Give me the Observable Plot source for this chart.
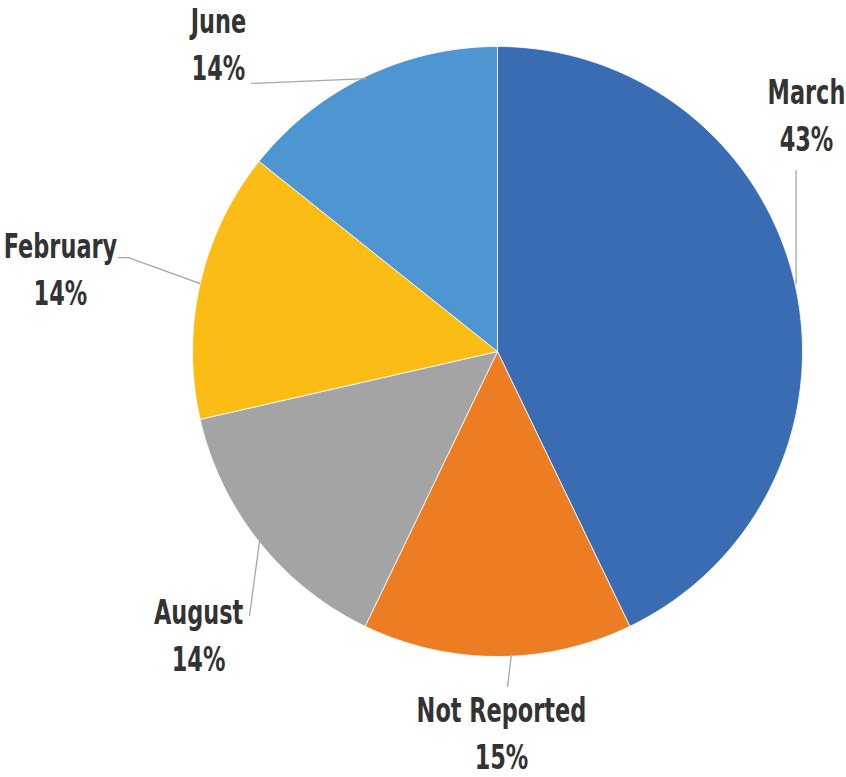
<!DOCTYPE html>
<html>
<head>
<meta charset="utf-8">
<script src="https://cdn.jsdelivr.net/npm/d3@7"></script>
<script src="https://cdn.jsdelivr.net/npm/@observablehq/plot@0.6"></script>
<style>
  html, body { margin: 0; padding: 0; background: #fff; }
  #chart svg { display: block; }
</style>
</head>
<body>
<div id="chart"></div>
<script>
// ---- data ----
const categories = ["March", "Not Reported", "August", "February", "June"];
const counts = [3, 1, 1, 1, 1];                       // slice sizes
const pctLabels = ["43%", "15%", "14%", "14%", "14%"]; // percentages as printed
const colors = ["#3a6cb4", "#ed7d22", "#a4a4a4", "#fbbd15", "#4e96d1"];

// ---- label layout (in pie-radius units, centre = 0,0) ----
const labelX = [1.013, 0.013, -0.980, -1.433, -0.915];
const labelY = [0.813, -1.216, -0.892, 0.308, 1.043];
const leaderPts = [
  [[0.979, 0.593], [0.979, 0.223]],
  [[0.033, -1.098], [0.046, -0.990]],
  [[-0.813, -0.866], [-0.780, -0.620]],
  [[-1.243, 0.308], [-1.210, 0.308], [-0.977, 0.223]],
  [[-0.807, 0.879], [-0.430, 0.895]]
];

// ---- geometry ----
const W = 846, H = 777, R = 305, CX = 497, CY = 351;
const pie = d3.pie().sort(null).value(d => d)(counts);
const slicePts = [];
pie.forEach((p, i) => {
  slicePts.push({cat: categories[i], x: 0, y: 0});
  const n = Math.max(2, Math.ceil((p.endAngle - p.startAngle) / (Math.PI / 360)));
  for (let k = 0; k <= n; k++) {
    const a = p.startAngle + (p.endAngle - p.startAngle) * k / n;
    slicePts.push({cat: categories[i], x: Math.sin(a), y: Math.cos(a)});
  }
  slicePts.push({cat: categories[i], x: 0, y: 0});
});

const labels = categories.map((c, i) => ({
  name: c,
  pct: pctLabels[i],
  x: labelX[i],
  y: labelY[i]
}));
const gap = 47 / R;

const leaders = [];
leaderPts.forEach((pts, i) => pts.forEach(([x, y]) => leaders.push({cat: categories[i], x, y})));

const font = "'DejaVu Sans', sans-serif";
const squeeze = 0.68;

const chart = Plot.plot({
  width: W,
  height: H,
  margin: 0,
  x: {domain: [-CX / R, (W - CX) / R], axis: null},
  y: {domain: [-(H - CY) / R, CY / R], axis: null},
  color: {domain: categories, range: colors},
  style: {fontFamily: font, background: "white"},
  marks: [
    Plot.line(slicePts, {x: "x", y: "y", z: "cat", fill: "cat", stroke: "white", strokeWidth: 0.8, curve: "linear"}),
    Plot.line(leaders, {x: "x", y: "y", z: "cat", stroke: "#a6a6a6", strokeWidth: 1.3}),
    Plot.text(labels, {x: "x", y: "y", text: "name", lineAnchor: "bottom", fontSize: 33, fontWeight: "bold", fill: "#333333", fontFamily: font}),
    Plot.text(labels, {x: "x", y: d => d.y - gap, text: "pct", lineAnchor: "bottom", fontSize: 33, fontWeight: "bold", fill: "#333333", fontFamily: font})
  ]
});

// horizontally condense label glyphs (the original uses a condensed typeface)
d3.select(chart).selectAll("g[aria-label='text'] text").each(function () {
  const t = this.getAttribute("transform");
  if (t) {
    this.setAttribute("transform", t + ` scale(${squeeze},1)`);
  } else {
    const x = +this.getAttribute("x") || 0, y = +this.getAttribute("y") || 0;
    this.removeAttribute("x"); this.removeAttribute("y");
    this.setAttribute("transform", `translate(${x},${y}) scale(${squeeze},1)`);
  }
});
document.getElementById("chart").appendChild(chart);
</script>
</body>
</html>
